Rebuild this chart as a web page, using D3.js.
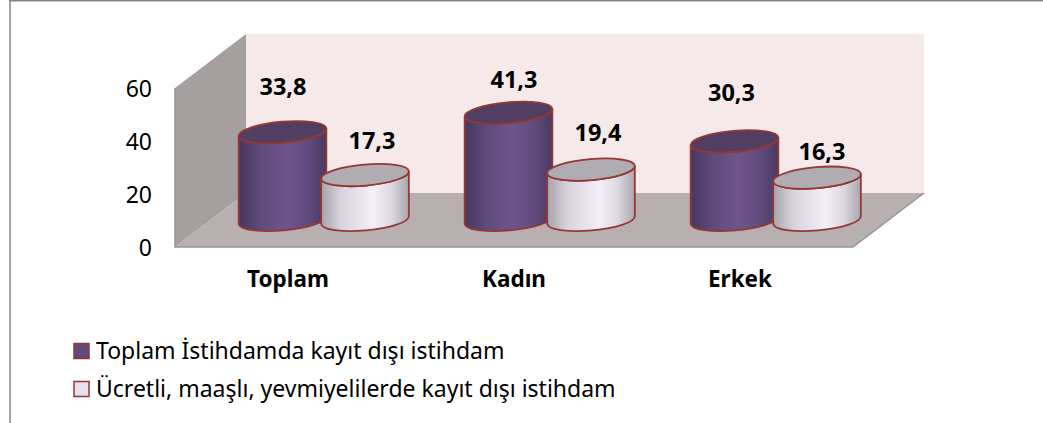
<!DOCTYPE html>
<html>
<head>
<meta charset="utf-8">
<script src="https://cdn.jsdelivr.net/npm/d3@7"></script>
<style>
  html, body { margin: 0; padding: 0; background: #fff; }
  svg { display: block; }
  text { font-family: "Noto Sans", sans-serif; fill: #000; }
</style>
</head>
<body>
<svg id="chart" width="1043" height="423"></svg>
<script>
const categories = ['Toplam', 'Kadın', 'Erkek'];
const seriesNames = ['Toplam İstihdamda kayıt dışı istihdam', 'Ücretli, maaşlı, yevmiyelilerde kayıt dışı istihdam'];
const totalValues = [33.8, 41.3, 30.3];
const paidValues = [17.3, 19.4, 16.3];
const yTicks = [0, 20, 40, 60];
// hand placed data labels, offset from the top of each cylinder
const totalLabelOffset = [[0.5, -37], [5.5, -25], [-3, -40]];
const paidLabelOffset = [[7, -26], [7, -29], [5, -18]];

const W = 1043;
const H = 423;
// front-left corner of the floor and how far the box is pushed back
const plot = { left: 175, right: 853, bottom: 247, top: 88 };
const depth = { dx: 71, dy: -54 };
const RX = 44;
const RY = 10.5;
const TILT = -5;
const BASE_LIFT = 27; // cylinder base centre above front floor edge
const DEPTH_SCALE = 0.98; // cylinders stand further back, so a bit shorter than the axis

const svg = d3.select('#chart');
const defs = svg.append('defs');

function sideGradient(id, stops) {
  const g = defs.append('linearGradient').attr('id', id).attr('x1', 0).attr('x2', 1).attr('y1', 0).attr('y2', 0);
  stops.forEach(([o, c]) => g.append('stop').attr('offset', o).attr('stop-color', c));
}
sideGradient('purpleSide', [[0, '#46365f'], [0.25, '#5f4b7c'], [0.55, '#70548c'], [0.8, '#5f4b7c'], [1, '#483a5e']]);
sideGradient('lightSide', [[0, '#a5a2a9'], [0.22, '#d6d2dc'], [0.6, '#f4eff9'], [0.8, '#dcd8e2'], [1, '#a9a6ae']]);

const x0 = d3.scaleBand().domain(categories).range([plot.left, plot.right]);
const x1 = d3.scaleBand().domain(seriesNames).range([-46.75, 118.25]);
const y = d3.scaleLinear().domain([0, 60]).range([plot.bottom, plot.top]);

// outer frame
svg.append('path')
  .attr('d', `M10,${H} V1`)
  .attr('fill', 'none')
  .attr('stroke', '#a6a6a6')
  .attr('stroke-width', 2);
svg.append('path')
  .attr('d', `M9,0.75 H${W}`)
  .attr('fill', 'none')
  .attr('stroke', '#868686')
  .attr('stroke-width', 1.5);

// back wall, side wall, floor
const corner = (px, py) => [px + depth.dx, py + depth.dy];
const poly = (pts, fill, parent = svg) => parent.append('polygon')
  .attr('points', pts.map((p) => p.join(',')).join(' '))
  .attr('fill', fill);

const fl = [plot.left, plot.bottom];
const fr = [plot.right, plot.bottom];
const tl = [plot.left, plot.top];
poly([corner(...tl), [plot.right + depth.dx, plot.top + depth.dy], corner(...fr), corner(...fl)], '#f5e9e9');
poly([tl, corner(...tl), corner(...fl), fl], '#a5a09f');
poly([fl, fr, corner(...fr), corner(...fl)], '#b8b0b0');

svg.append('path')
  .attr('d', `M${fl[0]},${tl[1]} V${fl[1]} H${fr[0]} L${corner(...fr).join(',')}`)
  .attr('fill', 'none')
  .attr('stroke', '#959595')
  .attr('stroke-width', 1.5);

// value axis
const yAxis = d3.axisLeft(y).tickValues(yTicks).tickSize(0).tickPadding(23);
svg.append('g')
  .attr('transform', `translate(${plot.left},1.5)`)
  .call(yAxis)
  .call((a) => a.select('.domain').remove())
  .call((a) => a.selectAll('text').attr('font-size', 23).attr('font-family', 'Noto Sans').attr('fill', '#000'));

// category axis
const xAxis = d3.axisBottom(x0).tickSize(0).tickPadding(24);
svg.append('g')
  .attr('transform', `translate(0,${plot.bottom})`)
  .call(xAxis)
  .call((a) => a.select('.domain').remove())
  .call((a) => a.selectAll('text').attr('font-size', 22.5).attr('font-weight', 700).attr('font-family', 'Noto Sans').attr('fill', '#000'));

// one cylinder standing on the floor
function cylinder(cx, h, side, top) {
  const baseY = plot.bottom - BASE_LIFT;
  const t = (TILT * Math.PI) / 180;
  const ox = RX * Math.cos(t);
  const oy = RX * Math.sin(t);
  const topY = baseY - h;
  const g = svg.append('g');
  g.append('path')
    .attr('d', `M${cx - ox},${topY - oy} L${cx - ox},${baseY - oy} A${RX},${RY} ${TILT} 0 0 ${cx + ox},${baseY + oy} L${cx + ox},${topY + oy} A${RX},${RY} ${TILT} 0 1 ${cx - ox},${topY - oy} Z`)
    .attr('fill', `url(#${side})`)
    .attr('stroke', '#953735')
    .attr('stroke-width', 1.8);
  g.append('ellipse')
    .attr('cx', cx)
    .attr('cy', topY)
    .attr('rx', RX)
    .attr('ry', RY)
    .attr('transform', `rotate(${TILT} ${cx} ${topY})`)
    .attr('fill', top)
    .attr('stroke', '#953735')
    .attr('stroke-width', 1.8);
}

categories.forEach((cat, i) => {
  const c = x0(cat) + x0.bandwidth() / 2;
  const h0 = (plot.bottom - y(totalValues[i])) * DEPTH_SCALE;
  const h1 = (plot.bottom - y(paidValues[i])) * DEPTH_SCALE;
  const cx0 = c + x1(seriesNames[0]) + x1.bandwidth() / 2;
  const cx1 = c + x1(seriesNames[1]) + x1.bandwidth() / 2;
  cylinder(cx0, h0, 'purpleSide', '#523d63');
  cylinder(cx1, h1, 'lightSide', '#afacb2');
  const baseY = plot.bottom - BASE_LIFT;
  [[cx0, h0, totalValues[i], totalLabelOffset[i]], [cx1, h1, paidValues[i], paidLabelOffset[i]]].forEach(([lx, lh, v, off]) => {
    svg.append('text')
      .attr('x', lx + off[0])
      .attr('y', baseY - lh + off[1])
      .attr('text-anchor', 'middle')
      .attr('font-size', 23.5)
      .attr('font-weight', 700)
      .text(String(v).replace('.', ','));
  });
});

// legend
const legend = svg.append('g');
const legendFill = ['#604a7b', '#e6e0ec'];
const legendY = d3.scalePoint().domain(seriesNames).range([351, 389]);
seriesNames.forEach((name, i) => {
  legend.append('rect')
    .attr('x', 74)
    .attr('y', legendY(name) - 7.5)
    .attr('width', 15)
    .attr('height', 15)
    .attr('fill', legendFill[i])
    .attr('stroke', '#953735')
    .attr('stroke-width', 1.5);
  legend.append('text')
    .attr('x', 96)
    .attr('y', legendY(name) + 7.5)
    .attr('font-size', 23)
    .text(name);
});
</script>
</body>
</html>
